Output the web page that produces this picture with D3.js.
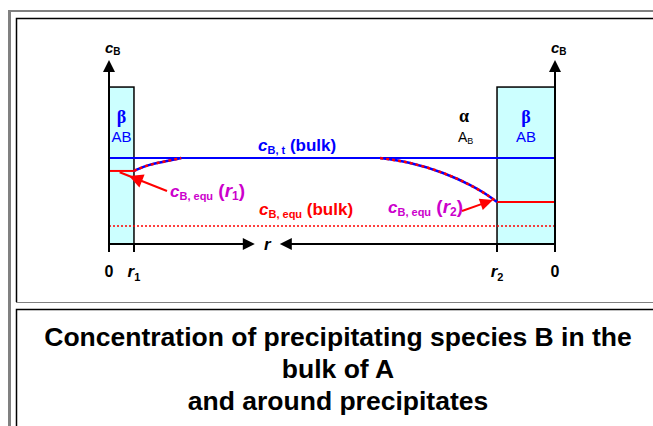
<!DOCTYPE html>
<html>
<head>
<meta charset="utf-8">
<script src="https://cdn.jsdelivr.net/npm/d3@7"></script>
<style>
body { margin: 0; background: #fff; }
svg text { font-family: "Liberation Sans", Arial, sans-serif; font-weight: bold; }
</style>
</head>
<body>
<div id="chart"></div>
<script>
// r positions in % of drawing width:  0 | r1 ........ r2 | 0
const interfaces = [0, 5.6, 87, 100];
const tickLabels = [["0"], ["r", "1"], ["r", "2"], ["0"]];
// concentration levels (arbitrary units, 0 = r axis)
const axisTop = 100;
const precipTop = 85.3;
const cBulkTotal = 46.7;
const cEquR1 = 39.7;
const cEquR2 = 22.8;
const cEquBulk = 9.8;
// depleted zone around each precipitate  [r, c]
const profileR1 = [[5.6, 39.7], [7.6, 41.8], [10.8, 44.0], [13.0, 45.1], [15.2, 46.2], [16.2, 46.7]];
const profileR2 = [[60.8, 46.7], [67.5, 44.0], [74.9, 38.6], [80.9, 32.1], [84.8, 26.6], [87, 22.8]];
// the r arrows break around the label
const rArrowGap = [32.7, 38.3];
const titleLines = ["Concentration of precipitating species B in the", "bulk of A", "and around precipitates"];

const chart = {

    width: 653,
    height: 426,

    // text made of runs: {t, size, italic, sub}
    richText: function (g, x, y, runs, color, anchor) {
        let text = g.append("text")
            .attr("x", x)
            .attr("y", y)
            .attr("fill", color)
            .attr("text-anchor", anchor || "start");
        runs.forEach((r) => {
            text.append("tspan")
                .attr("font-size", r.size)
                .attr("font-style", r.italic ? "italic" : null)
                .attr("font-weight", r.normal ? "normal" : null)
                .attr("font-family", r.serif ? "'Liberation Serif', serif" : null)
                .attr("dy", r.dy || 0)
                .text(r.t);
        });
        return text;
    },

    arrowHead: function (g, tipX, tipY, angle, len, half, color) {
        g.append("path")
            .attr("d", "M0,0 L" + (-len) + "," + (-half) + " L" + (-len) + "," + half + "Z")
            .attr("fill", color)
            .attr("transform", "translate(" + tipX + "," + tipY + ") rotate(" + angle + ")");
    },

    draw: function () {
        const svg = d3.select("#chart").append("svg")
            .attr("width", this.width)
            .attr("height", this.height);

        // frames
        svg.append("rect").attr("x", 8).attr("y", 10).attr("width", 3).attr("height", 416).attr("fill", "#808080");
        svg.append("rect").attr("x", 8).attr("y", 10).attr("width", 645).attr("height", 2).attr("fill", "#808080");
        svg.append("path").attr("d", "M16.5,302 V18.5 H653").attr("fill", "none").attr("stroke", "#000").attr("stroke-width", 1.5);
        svg.append("line").attr("x1", 16).attr("x2", 653).attr("y1", 302.5).attr("y2", 302.5).attr("stroke", "#808080");
        svg.append("path").attr("d", "M16.5,426 V309.5 H653").attr("fill", "none").attr("stroke", "#000").attr("stroke-width", 1.5);

        const x = d3.scaleLinear().domain([0, 100]).range([109, 555]);
        const y = d3.scaleLinear().domain([0, 100]).range([244, 60]);
        const g = svg.append("g");

        // precipitates (beta phase)
        const boxes = [[interfaces[0], interfaces[1]], [interfaces[2], interfaces[3]]];
        g.selectAll("rect.box").data(boxes).enter().append("rect")
            .attr("class", "box")
            .attr("x", (d) => x(d[0]))
            .attr("y", y(precipTop))
            .attr("width", (d) => x(d[1]) - x(d[0]))
            .attr("height", y(0) - y(precipTop))
            .attr("fill", "#ccffff")
            .attr("stroke", "#000")
            .attr("stroke-width", 1.5);

        // equilibrium bulk level (dotted)
        g.append("line")
            .attr("x1", x(0)).attr("x2", x(100))
            .attr("y1", y(cEquBulk)).attr("y2", y(cEquBulk))
            .attr("stroke", "#ff0000").attr("stroke-width", 1.5)
            .attr("stroke-dasharray", "2,2");

        // total bulk level
        g.append("line")
            .attr("x1", x(0)).attr("x2", x(100))
            .attr("y1", y(cBulkTotal)).attr("y2", y(cBulkTotal))
            .attr("stroke", "#0000ff").attr("stroke-width", 2);

        // equilibrium at the interfaces, inside the precipitates
        g.append("line")
            .attr("x1", x(interfaces[0]) + 1).attr("x2", x(interfaces[1]))
            .attr("y1", y(cEquR1)).attr("y2", y(cEquR1))
            .attr("stroke", "#ff0000").attr("stroke-width", 2);
        g.append("line")
            .attr("x1", x(interfaces[2])).attr("x2", x(interfaces[3]) - 1)
            .attr("y1", y(cEquR2)).attr("y2", y(cEquR2))
            .attr("stroke", "#ff0000").attr("stroke-width", 2);

        // depletion profiles: blue under red dashes
        const line = d3.line().x((d) => x(d[0])).y((d) => y(d[1])).curve(d3.curveMonotoneX);
        [profileR1, profileR2].forEach((p) => {
            g.append("path").attr("d", line(p)).attr("fill", "none")
                .attr("stroke", "#0000ff").attr("stroke-width", 2.5);
            g.append("path").attr("d", line(p)).attr("fill", "none")
                .attr("stroke", "#ff0000").attr("stroke-width", 2.5)
                .attr("stroke-dasharray", "3,3");
        });

        // c axes with arrows
        [interfaces[0], interfaces[3]].forEach((r) => {
            g.append("line")
                .attr("x1", x(r)).attr("x2", x(r))
                .attr("y1", y(0)).attr("y2", y(axisTop) + 8)
                .attr("stroke", "#000").attr("stroke-width", 2);
            this.arrowHead(g, x(r), y(axisTop), -90, 12, 6, "#000");
            this.richText(g, x(r) - 4, y(axisTop) - 7, [
                { t: "c", size: 15, italic: true },
                { t: "B", size: 10, dy: 2 }
            ], "#000");
        });

        // r axis
        g.append("line")
            .attr("x1", x(0)).attr("x2", x(rArrowGap[0]) - 8)
            .attr("y1", y(0)).attr("y2", y(0))
            .attr("stroke", "#000").attr("stroke-width", 2);
        g.append("line")
            .attr("x1", x(rArrowGap[1]) + 8).attr("x2", x(100))
            .attr("y1", y(0)).attr("y2", y(0))
            .attr("stroke", "#000").attr("stroke-width", 2);
        this.arrowHead(g, x(rArrowGap[0]), y(0), 0, 12, 6, "#000");
        this.arrowHead(g, x(rArrowGap[1]), y(0), 180, 12, 6, "#000");
        this.richText(g, (x(rArrowGap[0]) + x(rArrowGap[1])) / 2, y(0) + 6, [
            { t: "r", size: 17, italic: true }
        ], "#000", "middle");

        // ticks
        g.selectAll("line.tick").data(interfaces).enter().append("line")
            .attr("class", "tick")
            .attr("x1", (d) => x(d)).attr("x2", (d) => x(d))
            .attr("y1", y(0)).attr("y2", y(0) + 8)
            .attr("stroke", "#000").attr("stroke-width", 2);
        interfaces.forEach((r, i) => {
            const lab = tickLabels[i];
            const runs = lab.length === 1
                ? [{ t: lab[0], size: 16 }]
                : [{ t: lab[0], size: 17, italic: true }, { t: lab[1], size: 11, dy: 4 }];
            this.richText(g, x(r), y(0) + 33, runs, "#000", "middle");
        });

        // phase labels
        const mid1 = (x(interfaces[0]) + x(interfaces[1])) / 2;
        const mid2 = (x(interfaces[2]) + x(interfaces[3])) / 2 + 0;
        [mid1, mid2].forEach((m) => {
            this.richText(g, m, 123, [{ t: "β", size: 18, serif: true }], "#0000ff", "middle");
            this.richText(g, m, 142, [{ t: "AB", size: 15, normal: true }], "#0000ff", "middle");
        });
        this.richText(g, x(interfaces[2]) - 38, 122, [{ t: "α", size: 18, serif: true }], "#000");
        this.richText(g, x(interfaces[2]) - 39, 142, [
            { t: "A", size: 14, normal: true },
            { t: "B", size: 9, normal: true, dy: 2 }
        ], "#000");

        // curve labels
        this.richText(g, 258, y(cBulkTotal) - 7, [
            { t: "c", size: 17, italic: true },
            { t: "B, t", size: 11, dy: 3 },
            { t: " (bulk)", size: 17, dy: -3 }
        ], "#0000ff");
        this.richText(g, 259, y(cEquBulk) - 11, [
            { t: "c", size: 17, italic: true },
            { t: "B, equ", size: 11, dy: 3 },
            { t: " (bulk)", size: 17, dy: -3 }
        ], "#ff0000");
        this.richText(g, 170, 197, [
            { t: "c", size: 17, italic: true },
            { t: "B, equ", size: 11, dy: 3 },
            { t: " (", size: 19, dy: -3 },
            { t: "r", size: 19, italic: true },
            { t: "1", size: 12, dy: 3 },
            { t: ")", size: 19, dy: -3 }
        ], "#cc00cc");
        this.richText(g, 388, 213, [
            { t: "c", size: 17, italic: true },
            { t: "B, equ", size: 11, dy: 3 },
            { t: "  (", size: 19, dy: -3 },
            { t: "r", size: 19, italic: true },
            { t: "2", size: 12, dy: 3 },
            { t: ")", size: 19, dy: -3 }
        ], "#cc00cc");

        // red pointers to the interface values
        const p1 = [167, 191], t1 = [x(interfaces[1]) - 5, y(cEquR1) + 5];
        const a1 = Math.atan2(t1[1] - p1[1], t1[0] - p1[0]) * 180 / Math.PI;
        g.append("line").attr("x1", p1[0]).attr("y1", p1[1])
            .attr("x2", t1[0] + 10 * Math.cos(a1 * Math.PI / 180)).attr("y2", t1[1] + 10 * Math.sin(a1 * Math.PI / 180))
            .attr("stroke", "#ff0000").attr("stroke-width", 2);
        this.arrowHead(g, t1[0], t1[1], a1, 14, 7, "#ff0000");

        const p2 = [462, 211], t2 = [x(interfaces[2]) - 4, y(cEquR2) - 2];
        const a2 = Math.atan2(t2[1] - p2[1], t2[0] - p2[0]) * 180 / Math.PI;
        g.append("line").attr("x1", p2[0]).attr("y1", p2[1])
            .attr("x2", t2[0] - 10 * Math.cos(a2 * Math.PI / 180)).attr("y2", t2[1] - 10 * Math.sin(a2 * Math.PI / 180))
            .attr("stroke", "#ff0000").attr("stroke-width", 2);
        this.arrowHead(g, t2[0], t2[1], a2, 13, 6, "#ff0000");

        // caption
        svg.selectAll("text.title").data(titleLines).enter().append("text")
            .attr("class", "title")
            .attr("x", 338)
            .attr("y", (d, i) => 346 + i * 32)
            .attr("text-anchor", "middle")
            .attr("font-size", 26.5)
            .attr("fill", "#000")
            .text((d) => d);
    }
};

chart.draw();
</script>
</body>
</html>
